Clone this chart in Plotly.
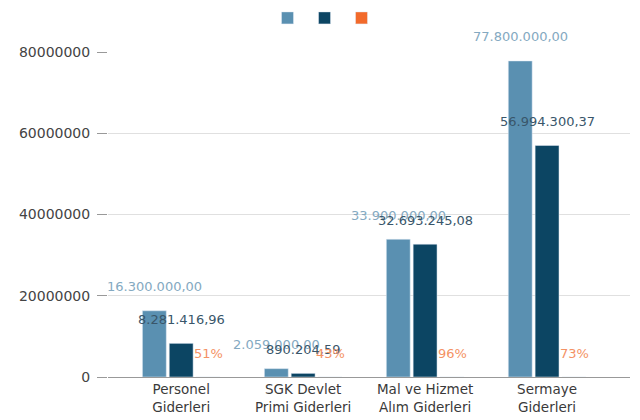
import plotly.graph_objects as go

categories = ["Personel<br>Giderleri", "SGK Devlet<br>Primi Giderleri", "Mal ve Hizmet<br>Alım Giderleri", "Sermaye<br>Giderleri"]
budget = [16300000.00, 2059000.00, 33900000.00, 77800000.00]
realized = [8281416.96, 890204.59, 32693245.08, 56994300.37]
ratio_pct = [51, 43, 96, 73]

budget_labels = ["16.300.000,00", "2.059.000,00", "33.900.000,00", "77.800.000,00"]
realized_labels = ["8.281.416,96", "890.204,59", "32.693.245,08", "56.994.300,37"]
ratio_labels = [f"{v}%" for v in ratio_pct]

c_light = "#5a90b1"
c_dark = "#0c4563"
c_orange = "#f26a2b"

fig = go.Figure()
fig.add_trace(go.Bar(x=categories, y=budget, name="", marker_color=c_light, legend="legend"))
fig.add_trace(go.Bar(x=categories, y=realized, name="", marker_color=c_dark, legend="legend2"))
fig.add_trace(go.Bar(x=categories, y=ratio_pct, name="", marker_color=c_orange, legend="legend3"))

font = "DejaVu Sans, Verdana, sans-serif"
annots = []
for vals, labs, col, dx in [(budget, budget_labels, "#84a9c1", -27),
                            (realized, realized_labels, "#39566a", 0),
                            (ratio_pct, ratio_labels, "#f49265", 27)]:
    for c, v, t in zip(categories, vals, labs):
        annots.append(dict(x=c, y=v, xref="x", yref="y", text=t, showarrow=False,
                           xshift=dx, yshift=24, yanchor="middle",
                           font=dict(family=font, size=13, color=col)))

def leg(x):
    return dict(orientation="h", xref="container", yref="container",
                x=x, xanchor="center", y=0.976, yanchor="middle",
                font=dict(size=1), itemwidth=30, bgcolor="rgba(0,0,0,0)")

fig.update_layout(
    width=632, height=412,
    margin=dict(l=100, r=10, t=44, b=43, autoexpand=False),
    paper_bgcolor="white", plot_bgcolor="white",
    barmode="group", bargap=0.34, bargroupgap=0.11,
    font=dict(family=font, size=14, color="#333"),
    showlegend=True,
    legend=leg(0.4462), legend2=leg(0.5048), legend3=leg(0.5633),
    annotations=annots,
    xaxis=dict(range=[-0.6, 3.68], showline=True, linecolor="#999", linewidth=1,
               ticks="", tickfont=dict(size=13.5, color="#3a3a3a"), showgrid=False),
    yaxis=dict(range=[0, 80000000], tickvals=[0, 20000000, 40000000, 60000000, 80000000],
               ticktext=["0", "20000000", "40000000", "60000000", "80000000"],
               showgrid=True, gridcolor="#e0e0e0", gridwidth=1, zeroline=False,
               ticks="outside", ticklen=10, tickcolor="#999", ticklabelstandoff=4,
               tickfont=dict(size=14, color="#444")),
)

fig.write_html("out.html")
